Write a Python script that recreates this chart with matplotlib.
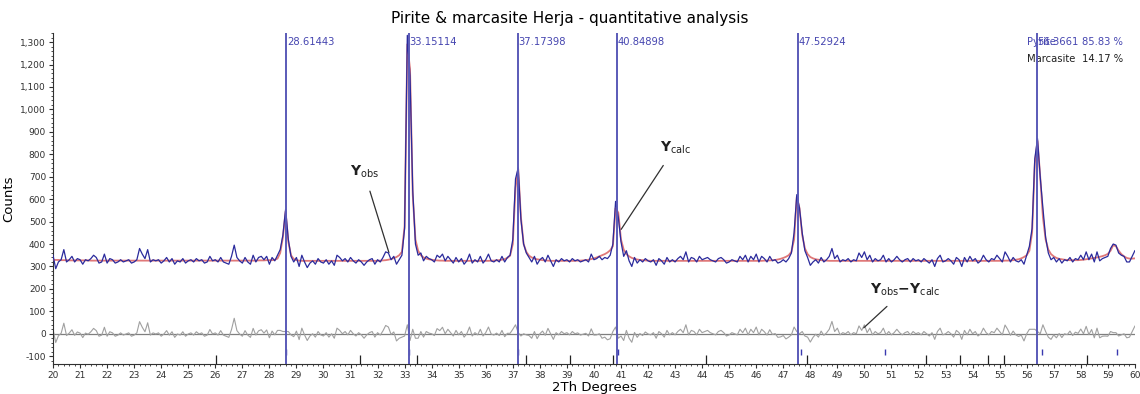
import numpy as np
import matplotlib
matplotlib.use("Agg")
import matplotlib.pyplot as plt
from matplotlib.ticker import MultipleLocator, FuncFormatter

# --- data (2Th step 0.1 deg, 20.0 .. 60.0) ---
tth_start, tth_step = 20.0, 0.1

y_obs = [
    350, 290, 320, 330, 375, 320, 330, 345, 320, 335, 330,
    310, 330, 325, 335, 350, 340, 315, 320, 355, 315,
    335, 330, 315, 320, 330, 320, 325, 330, 315, 320,
    330, 380, 355, 335, 375, 320, 330, 325, 330, 315,
    325, 340, 320, 335, 310, 325, 320, 335, 315, 325,
    330, 320, 335, 325, 330, 315, 320, 345, 325, 330,
    320, 340, 320, 315, 310, 345, 395, 340, 325, 315,
    340, 320, 310, 350, 320, 340, 345, 330, 345, 310,
    340, 325, 350, 375, 440, 555, 420, 345, 320, 340,
    300, 350, 320, 295, 315, 325, 310, 335, 320, 315,
    330, 310, 325, 305, 350, 340, 325, 335, 320, 340,
    325, 315, 330, 320, 305, 320, 330, 335, 310, 330,
    320, 340, 365, 360, 330, 345, 310, 330, 350, 470,
    1330, 1150, 640, 400, 350, 360, 325, 345, 335, 330,
    320, 350, 340, 355, 325, 345, 330, 315, 340, 320,
    335, 310, 325, 355, 315, 330, 320, 345, 315, 330,
    355, 325, 320, 330, 320, 345, 320, 340, 350, 420,
    690, 740, 510, 400, 360, 340, 320, 345, 310, 330,
    340, 320, 350, 325, 300, 330, 320, 335, 325, 330,
    320, 335, 325, 330, 320, 325, 330, 320, 355, 330,
    335, 345, 330, 340, 335, 350, 400, 590, 520, 410,
    345, 370, 325, 300, 340, 315, 330, 320, 335, 325,
    320, 330, 305, 335, 325, 310, 340, 320, 330, 320,
    335, 345, 330, 365, 320, 340, 335, 320, 345, 330,
    335, 340, 330, 325, 320, 335, 340, 330, 315, 320,
    330, 325, 320, 345, 330, 350, 320, 345, 330, 355,
    320, 345, 335, 320, 345, 325, 330, 315, 320, 330,
    320, 335, 360, 450, 620, 560, 450, 370, 340, 305,
    320, 330, 315, 340, 320, 330, 345, 380, 335, 350,
    320, 330, 325, 335, 320, 330, 325, 360, 340, 365,
    330, 350, 320, 335, 325, 330, 350, 320, 335, 320,
    330, 345, 330, 320, 330, 335, 320, 335, 325, 330,
    320, 335, 325, 315, 330, 300, 335, 350, 320, 325,
    335, 325, 310, 340, 330, 300, 340, 320, 345, 325,
    335, 315, 325, 350, 330, 320, 335, 330, 350, 335,
    320, 365, 345, 320, 340, 325, 320, 330, 310, 350,
    390, 470, 780, 870, 700, 560, 430, 360, 330, 340,
    320, 335, 315, 330, 325, 340, 320, 335, 330, 350,
    330, 365, 330, 355, 320, 365, 325, 335, 340, 345,
    380, 400, 395, 360, 350, 345, 320, 320, 345, 370,
]

y_calc = [
    330, 329, 329, 328, 328, 328, 327, 327, 327, 327, 327,
    327, 327, 327, 326, 326, 326, 326, 326, 326, 326,
    326, 326, 326, 326, 326, 326, 326, 326, 326, 326,
    326, 326, 326, 326, 326, 326, 326, 326, 326, 326,
    326, 326, 326, 326, 326, 326, 326, 326, 326, 326,
    326, 326, 326, 326, 326, 326, 326, 326, 326, 326,
    326, 326, 326, 326, 326, 326, 326, 326, 326, 326,
    326, 326, 326, 326, 326, 327, 327, 327, 328, 328,
    328, 330, 335, 360, 430, 545, 410, 350, 333, 328,
    326, 325, 325, 325, 325, 325, 325, 325, 325, 325,
    325, 325, 325, 325, 325, 325, 325, 325, 325, 325,
    325, 325, 325, 325, 325, 325, 325, 325, 325, 325,
    326, 327, 328, 330, 333, 337, 342, 350, 365, 480,
    1290, 1180, 620, 420, 370, 350, 340, 335, 332, 330,
    328, 327, 326, 326, 325, 325, 325, 325, 325, 325,
    325, 325, 325, 325, 325, 325, 325, 325, 325, 325,
    325, 326, 326, 327, 328, 330, 333, 338, 348, 400,
    650, 735, 520, 400, 365, 348, 340, 335, 332, 330,
    328, 327, 326, 325, 325, 325, 325, 325, 325, 325,
    325, 325, 325, 326, 326, 327, 328, 330, 333, 336,
    340, 345, 350, 355, 362, 372, 390, 560, 540, 420,
    375, 355, 345, 338, 334, 331, 329, 328, 327, 326,
    325, 325, 325, 325, 325, 325, 325, 325, 325, 325,
    325, 325, 325, 325, 325, 325, 325, 325, 325, 325,
    325, 325, 325, 325, 325, 325, 325, 325, 325, 325,
    325, 325, 325, 325, 325, 325, 325, 325, 325, 325,
    325, 325, 326, 326, 327, 328, 329, 331, 334, 338,
    343, 350, 365, 420, 610, 560, 440, 380, 355, 342,
    336, 332, 330, 328, 327, 326, 325, 325, 325, 325,
    325, 325, 325, 325, 325, 325, 325, 325, 325, 325,
    325, 325, 325, 325, 325, 325, 325, 325, 325, 325,
    325, 325, 325, 325, 325, 325, 325, 325, 325, 325,
    325, 325, 325, 325, 325, 325, 325, 325, 325, 325,
    325, 325, 325, 325, 325, 325, 325, 325, 325, 325,
    325, 325, 325, 325, 325, 325, 325, 325, 325, 325,
    325, 326, 326, 327, 328, 330, 332, 336, 342, 350,
    370, 450, 760, 860, 700, 520, 420, 375, 355, 345,
    338, 334, 332, 330, 329, 328, 328, 328, 328, 329,
    330, 332, 334, 336, 338, 340, 343, 346, 350, 356,
    370, 395, 390, 370, 355, 345, 338, 335, 335, 336,
]

peak_pos = [28.61443, 33.15114, 37.17398, 40.84898, 47.52924, 56.3661]
peak_lab = ["28.61443", "33.15114", "37.17398", "40.84898", "47.52924", "56.3661"]

# Bragg reflection markers
pyrite_ticks = [28.62, 33.17, 37.20, 40.90, 47.65, 50.76, 56.55, 59.33]
marcasite_ticks = [26.01, 31.34, 33.44, 37.47, 39.11, 40.69, 44.16,
                   47.86, 52.26, 53.53, 54.58, 55.16, 58.22]

phases = ["Pyrite", "Marcasite"]
phase_pct = ["85.83 %", "14.17 %"]

tth = tth_start + tth_step * np.arange(len(y_obs))
y_obs = np.array(y_obs, dtype=float)
y_calc = np.array(y_calc, dtype=float)
y_diff = y_obs - y_calc

# --- plot ---
fig = plt.figure(figsize=(11.4, 3.94), dpi=100)
ax = fig.add_axes([0.0465, 0.076, 0.949, 0.840])

ax.axhline(0, color="#7f7f7f", lw=0.9, zorder=1)
ax.plot(tth, y_diff, color="#a0a0a0", lw=0.8, zorder=2)
ax.plot(tth, y_calc, color="#e07878", lw=1.3, zorder=3)
ax.plot(tth, y_obs, color="#2a2a9c", lw=0.9, zorder=4)

for p, lab in zip(peak_pos, peak_lab):
    ax.axvline(p, color="#5a5ab8", lw=1.4, zorder=5)
    ax.text(p + 0.03, 1300, lab, color="#4646b0", fontsize=7.2,
            va="center", ha="left", zorder=6)

ax.vlines(marcasite_ticks, -135, -93, color="#202020", lw=0.9)
ax.vlines(pyrite_ticks, -93, -70, color="#3a3ab0", lw=1.0)

# phase amounts (top right, as in the source software)
ax.text(56.02, 1300, phases[0], color="#4646b0", fontsize=7.2, va="center")
ax.text(58.05, 1300, phase_pct[0], color="#4646b0", fontsize=7.2, va="center")
ax.text(56.02, 1225, phases[1], color="#202020", fontsize=7.2, va="center")
ax.text(58.05, 1225, phase_pct[1], color="#202020", fontsize=7.2, va="center")

# annotations
lbl = dict(fontsize=10, color="#202020", family="DejaVu Serif")
ax.annotate(r"$\mathbf{Y}_{\mathrm{obs}}$", xy=(32.45, 350), xytext=(31.5, 720),
            ha="center", va="center",
            arrowprops=dict(arrowstyle="-", color="#303030", lw=0.9, shrinkA=6), **lbl)
ax.annotate(r"$\mathbf{Y}_{\mathrm{calc}}$", xy=(40.95, 455), xytext=(43.0, 830),
            ha="center", va="center",
            arrowprops=dict(arrowstyle="-", color="#303030", lw=0.9, shrinkA=6), **lbl)
ax.annotate(r"$\mathbf{Y}_{\mathrm{obs}}\mathbf{-Y}_{\mathrm{calc}}$", xy=(49.9, 18),
            xytext=(51.5, 196), ha="center", va="center",
            arrowprops=dict(arrowstyle="-", color="#303030", lw=0.9, shrinkA=6), **lbl)

ax.set_xlim(20, 60)
ax.set_ylim(-135, 1340)
ax.xaxis.set_major_locator(MultipleLocator(1))
ax.xaxis.set_minor_locator(MultipleLocator(0.2))
ax.yaxis.set_major_locator(MultipleLocator(100))
ax.yaxis.set_minor_locator(MultipleLocator(20))
ax.yaxis.set_major_formatter(FuncFormatter(lambda v, _: f"{v:,.0f}"))
ax.tick_params(axis="both", which="major", labelsize=6.5, length=3, width=0.8,
               colors="#303030", pad=2)
ax.tick_params(axis="both", which="minor", length=1.5, width=0.6, colors="#303030")
for s in ["top", "right"]:
    ax.spines[s].set_visible(False)
for s in ["left", "bottom"]:
    ax.spines[s].set_color("#303030")

ax.set_xlabel("2Th Degrees", fontsize=9.5, labelpad=1)
ax.set_ylabel("Counts", fontsize=9.5, labelpad=4)
fig.suptitle("Pirite & marcasite Herja - quantitative analysis", fontsize=11, y=0.972)

fig.savefig("out.png", dpi=100)
